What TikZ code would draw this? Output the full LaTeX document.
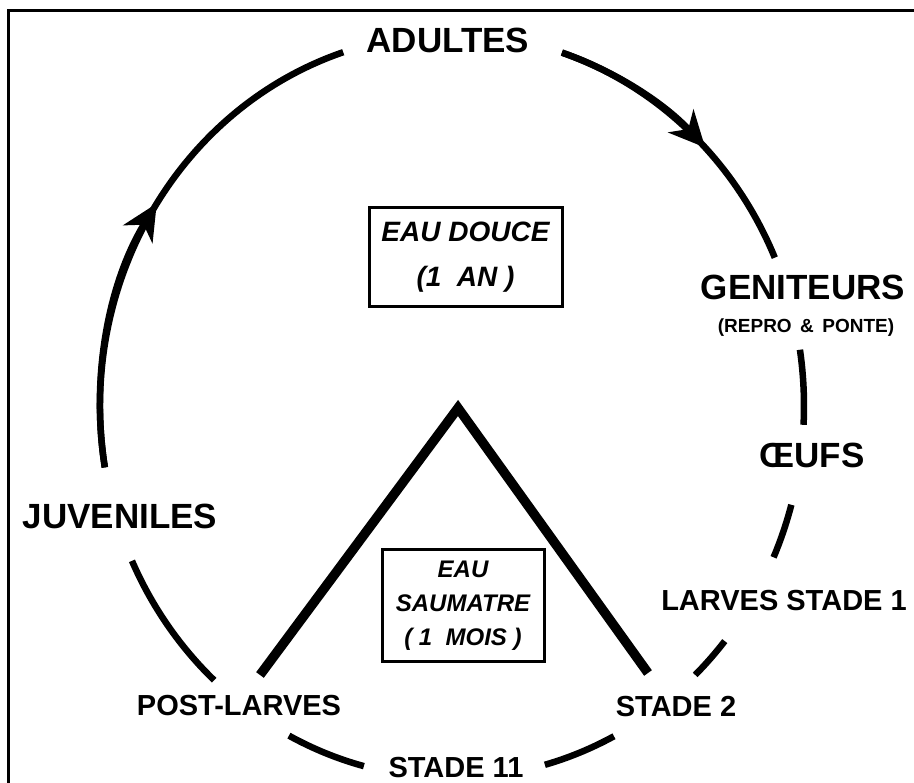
\documentclass[tikz,border=0pt]{standalone}
\usepackage{fontspec}
\setmainfont{Liberation Sans}
\usetikzlibrary{arrows.meta}
\begin{document}
\begin{tikzpicture}[x=1pt,y=-1pt,
  big/.style={font=\fontsize{35}{35}\selectfont\bfseries, inner sep=0pt},
  sml/.style={font=\fontsize{29}{29}\selectfont\bfseries, inner sep=0pt},
  cyc/.style={line width=6.5pt, line cap=butt},
  ell/.style={x radius=352, y radius=372},
  tip/.style={-{Stealth[length=36pt,width=34pt,inset=11pt]}},
  tri/.style={line width=9.5pt, line join=miter, line cap=butt},
  boxd/.style={draw, line width=3pt, inner sep=0pt, align=center}]
\useasboundingbox (0,0) rectangle (914,783);
% frame
\draw[line width=3.5pt] (8.5,783) -- (8.5,10.5) -- (914,10.5);

% labels
\node[big] (adultes) at (448,40) {ADULTES};
\node[big] (geniteurs) at (803,287) {GENITEURS};
\node[inner sep=0pt, font=\fontsize{19}{19}\selectfont\bfseries] (repro) at (806,328) {(REPRO \,\&\, PONTE)};
\node[big] (oeufs) at (812,455) {ŒUFS};
\node[big] (juveniles) at (120,516) {JUVENILES};
\node[sml] (larves) at (784,601) {LARVES STADE 1};
\node[sml] (stade2) at (676,707) {STADE 2};
\node[sml] (postlarves) at (239,706) {POST-LARVES};
\node[sml] (stade11) at (456,768) {STADE 11};

% boxes
\node[boxd, minimum width=193pt, minimum height=99pt,
  font=\fontsize{28}{45}\selectfont\bfseries\itshape] (douce) at (465.5,257.5)
  {EAU DOUCE\\(1\ \ AN\ )};
\node[boxd, minimum width=162pt, minimum height=111pt,
  font=\fontsize{24}{34}\selectfont\bfseries\itshape] (saumatre) at (463,605.5)
  {EAU\\SAUMATRE\\(\ 1\ \ MOIS\ )};

% triangle
\coordinate (apex) at (458,408);
\coordinate (footL) at (260,675);
\coordinate (footR) at (648,673);
\draw[tri] (footL) -- (apex) -- (footR);

% cycle arcs (points on the ellipse centred at (452,406))
\coordinate (a1) at ({452+352*cos(170.5)},{406+372*sin(170.5)});
\coordinate (a2) at ({452+352*cos(288.2)},{406+372*sin(288.2)});
\coordinate (a3) at ({452+352*cos(351.3)},{406+372*sin(351.3)});
\coordinate (a4) at ({452+352*cos(15.4)},{406+372*sin(15.4)});
\coordinate (a5) at ({452+352*cos(39.2)},{406+372*sin(39.2)});
\coordinate (a6) at ({452+352*cos(62.6)},{406+372*sin(62.6)});
\coordinate (a7) at ({452+352*cos(104.5)},{406+372*sin(104.5)});
\coordinate (a8) at ({452+352*cos(132.5)},{406+372*sin(132.5)});

% juveniles -> adultes
\draw[cyc] (a1) arc[start angle=170.5, end angle=252, ell];
\draw[cyc, tip] (a1) arc[start angle=170.5, end angle=213, ell];
% adultes -> geniteurs
\draw[cyc] (a2) arc[start angle=288.2, end angle=336.5, ell];
\draw[cyc, tip] (a2) arc[start angle=288.2, end angle=316, ell];
% geniteurs -> oeufs
\draw[cyc] (a3) arc[start angle=351.3, end angle=362.9, ell];
% oeufs -> larves
\draw[cyc] (a4) arc[start angle=15.4, end angle=24, ell];
% larves -> stade 2
\draw[cyc] (a5) arc[start angle=39.2, end angle=46.3, ell];
% stade 2 -> stade 11
\draw[cyc] (a6) arc[start angle=62.6, end angle=74.7, ell];
% stade 11 -> post-larves
\draw[cyc] (a7) arc[start angle=104.5, end angle=117.6, ell];
% post-larves -> juveniles
\draw[cyc] (a8) arc[start angle=132.5, end angle=155.4, ell];
\end{tikzpicture}
\end{document}
